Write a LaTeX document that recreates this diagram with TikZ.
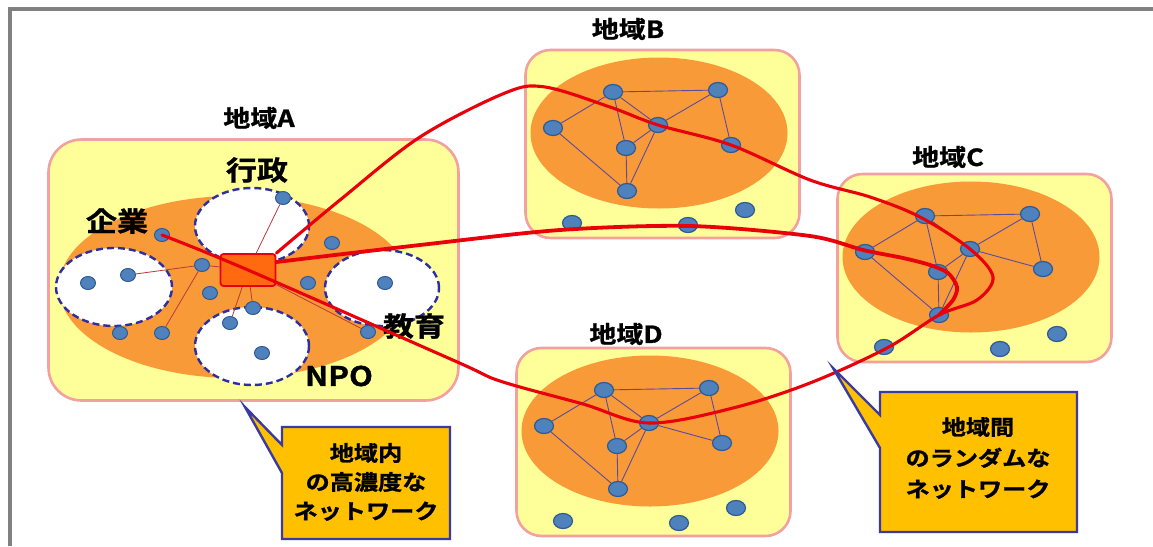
\documentclass[tikz,border=0pt]{standalone}
\usepackage{fontspec}
\newfontfamily\jp{Noto Sans CJK JP}[FakeStretch=1.15, BoldFont={Noto Sans CJK JP Bold}, BoldFeatures={FakeBold=1.2}]
\usetikzlibrary{shapes.geometric}
\definecolor{regfill}{HTML}{FFFF99}
\definecolor{regline}{HTML}{F2A0A0}
\definecolor{orng}{HTML}{F99A38}
\definecolor{dotfill}{HTML}{4F81BD}
\definecolor{dotline}{HTML}{2E5A92}
\definecolor{netline}{HTML}{5B4A9E}
\definecolor{dashblue}{HTML}{2E2E9E}
\definecolor{hubfill}{HTML}{FF6A10}
\definecolor{rline}{HTML}{E8000B}
\definecolor{thinred}{HTML}{B83A3A}
\definecolor{callfill}{HTML}{FFC000}
\definecolor{callline}{HTML}{3A3AA0}
\definecolor{framegray}{HTML}{808080}
\begin{document}
\begin{tikzpicture}[x=1pt,y=-1pt,
 region/.style={draw=regline, fill=regfill, line width=2.6pt, inner sep=0},
 core/.style={ellipse, fill=orng, inner sep=0},
 sector/.style={ellipse, draw=dashblue, fill=white, line width=2.4pt, dash pattern=on 7pt off 4pt, inner sep=0, minimum width=114pt, minimum height=76pt},
 adot/.style={ellipse, fill=dotfill, draw=dotline, line width=1pt, minimum width=15pt, minimum height=13pt, inner sep=0},
 ndot/.style={ellipse, fill=dotfill, draw=dotline, line width=1.2pt, minimum width=19pt, minimum height=15pt, inner sep=0},
 net/.style={draw=netline, line width=0.9pt},
 thinlink/.style={draw=thinred, line width=0.8pt},
 link/.style={draw=rline, line width=3.1pt, line join=round, line cap=round},
 title/.style={font=\jp\bfseries\fontsize{23.5}{26}\selectfont, inner sep=0},
 lab/.style={font=\jp\bfseries\fontsize{27}{30}\selectfont, inner sep=0},
 calltext/.style={font=\jp\bfseries\fontsize{21}{29}\selectfont, align=center, inner sep=0},
 callout/.style={fill=callfill, draw=callline, line width=2.4pt, line join=miter}
]
\useasboundingbox (0,0) rectangle (1153,546);
\draw[framegray, line width=4pt] (10,546) -- (10,9) -- (1153,9);

% Region A
\node[region, rounded corners=33pt, minimum width=410pt, minimum height=261pt] (rA) at (253.5,270) {};
\node[core, minimum width=352pt, minimum height=182pt] (oA) at (235,287) {};
\node[sector] (gyosei) at (252,226) {};
\node[sector, minimum width=116pt, minimum height=78pt] (kigyo) at (114,287) {};
\node[sector, minimum height=78pt] (npo) at (252,346) {};
\node[sector] (kyoiku) at (382,288) {};

\node[adot] (a1) at (162,235) {};
\node[adot] (a2) at (283,198) {};
\node[adot] (a3) at (128,275) {};
\node[adot] (a4) at (88,283) {};
\node[adot] (a5) at (202,265) {};
\node[adot] (a6) at (210,293) {};
\node[adot] (a7) at (332,243) {};
\node[adot] (a8) at (308,283) {};
\node[adot] (a9) at (385,283) {};
\node[adot] (a10) at (253,308) {};
\node[adot] (a11) at (230,323) {};
\node[adot] (a12) at (262,353) {};
\node[adot] (a13) at (120,333) {};
\node[adot] (a14) at (162,333) {};
\node[adot] (a15) at (368,332) {};

\node[draw=rline, fill=hubfill, line width=1.8pt, rounded corners=3pt, minimum width=55pt, minimum height=32pt, inner sep=0] (hub) at (248,270) {};

\draw[thinlink] (hub) -- (a2);
\draw[thinlink] (a5) -- (a3);
\draw[thinlink] (a5) -- (a14);
\draw[thinlink] (a5) -- (hub);
\draw[thinlink] (hub) -- (a11);
\draw[thinlink] (hub) -- (a10);
\draw[thinlink] (hub) -- (a15);

% Regions B, C, D
\foreach \r/\cx/\cy in {B/659/133,C/971/257,D/650/431}{
 \begin{scope}[shift={(\cx,\cy)}]
  \node[region, rounded corners=25pt, minimum width=274pt, minimum height=188pt] (r\r) at (3.5,11) {};
  \node[core, minimum width=257pt, minimum height=151pt] (o\r) at (0,0) {};
  \node[ndot] (\r1) at (-46,-41) {};
  \node[ndot] (\r2) at (59,-43) {};
  \node[ndot] (\r3) at (-106,-5) {};
  \node[ndot] (\r4) at (-1,-8) {};
  \node[ndot] (\r5) at (72,12) {};
  \node[ndot] (\r6) at (-33,15) {};
  \node[ndot] (\r7) at (-32,58) {};
  \node[ndot] (\r8) at (-87,90) {};
  \node[ndot] (\r9) at (29,92) {};
  \node[ndot] (\r10) at (86,77) {};
 \end{scope}
 \draw[net] (\r1) -- (\r2);
 \draw[net] (\r1) -- (\r3);
 \draw[net] (\r1) -- (\r4);
 \draw[net] (\r1) -- (\r6);
 \draw[net] (\r2) -- (\r4);
 \draw[net] (\r2) -- (\r5);
 \draw[net] (\r4) -- (\r5);
 \draw[net] (\r4) -- (\r6);
 \draw[net] (\r4) -- (\r7);
 \draw[net] (\r6) -- (\r7);
 \draw[net] (\r3) -- (\r7);
}

% Labels
\node[title] (tA) at (259,118) {地域A};
\node[title] (tB) at (628,29) {地域B};
\node[title] (tC) at (948,157) {地域C};
\node[title] (tD) at (626,334) {地域D};
\node[lab] (lg) at (257,170) {行政};
\node[lab] (lk) at (117,221) {企業};
\node[lab] (le) at (414,326) {教育};
\node[lab] (ln) at (339,376) {NPO};

% Inter-regional links
\draw[link] plot[smooth, tension=0.55] coordinates {(a1.center) (hub.center) (455,361) (500,381) (583,404) (D4.center) (733,408) (810,383) (887,348) (C7.center) (977,300) (993,277) (C4.center) (920,217) (870,197) (810,180) (B5.center) (B4.center) (610,107) (545,87) (505,93) (420,137) (340,200) (hub.north east)};
\draw[link, line width=3.8pt] plot[smooth, tension=0.5] coordinates {([yshift=8pt]hub.east) (420,245) (560,230) (690,226) (810,236) (863,250) (903,258) (930,265) (948,273) (957,287) (953,300) (C7.center)};

% Callouts
\draw[callout] (282,427) -- (450,427) -- (450,539) -- (282,539) -- (282,473) -- (245,407) -- (282,445) -- cycle;
\node[calltext] (ca) at (366,482) {地域内\\の高濃度な\\ネットワーク};
\draw[callout] (880,392) -- (1077,392) -- (1077,532) -- (880,532) -- (880,448) -- (833,368) -- (880,415) -- cycle;
\node[calltext, font=\jp\bfseries\fontsize{21}{31}\selectfont] (cc) at (978,458) {地域間\\のランダムな\\ネットワーク};
\end{tikzpicture}
\end{document}
